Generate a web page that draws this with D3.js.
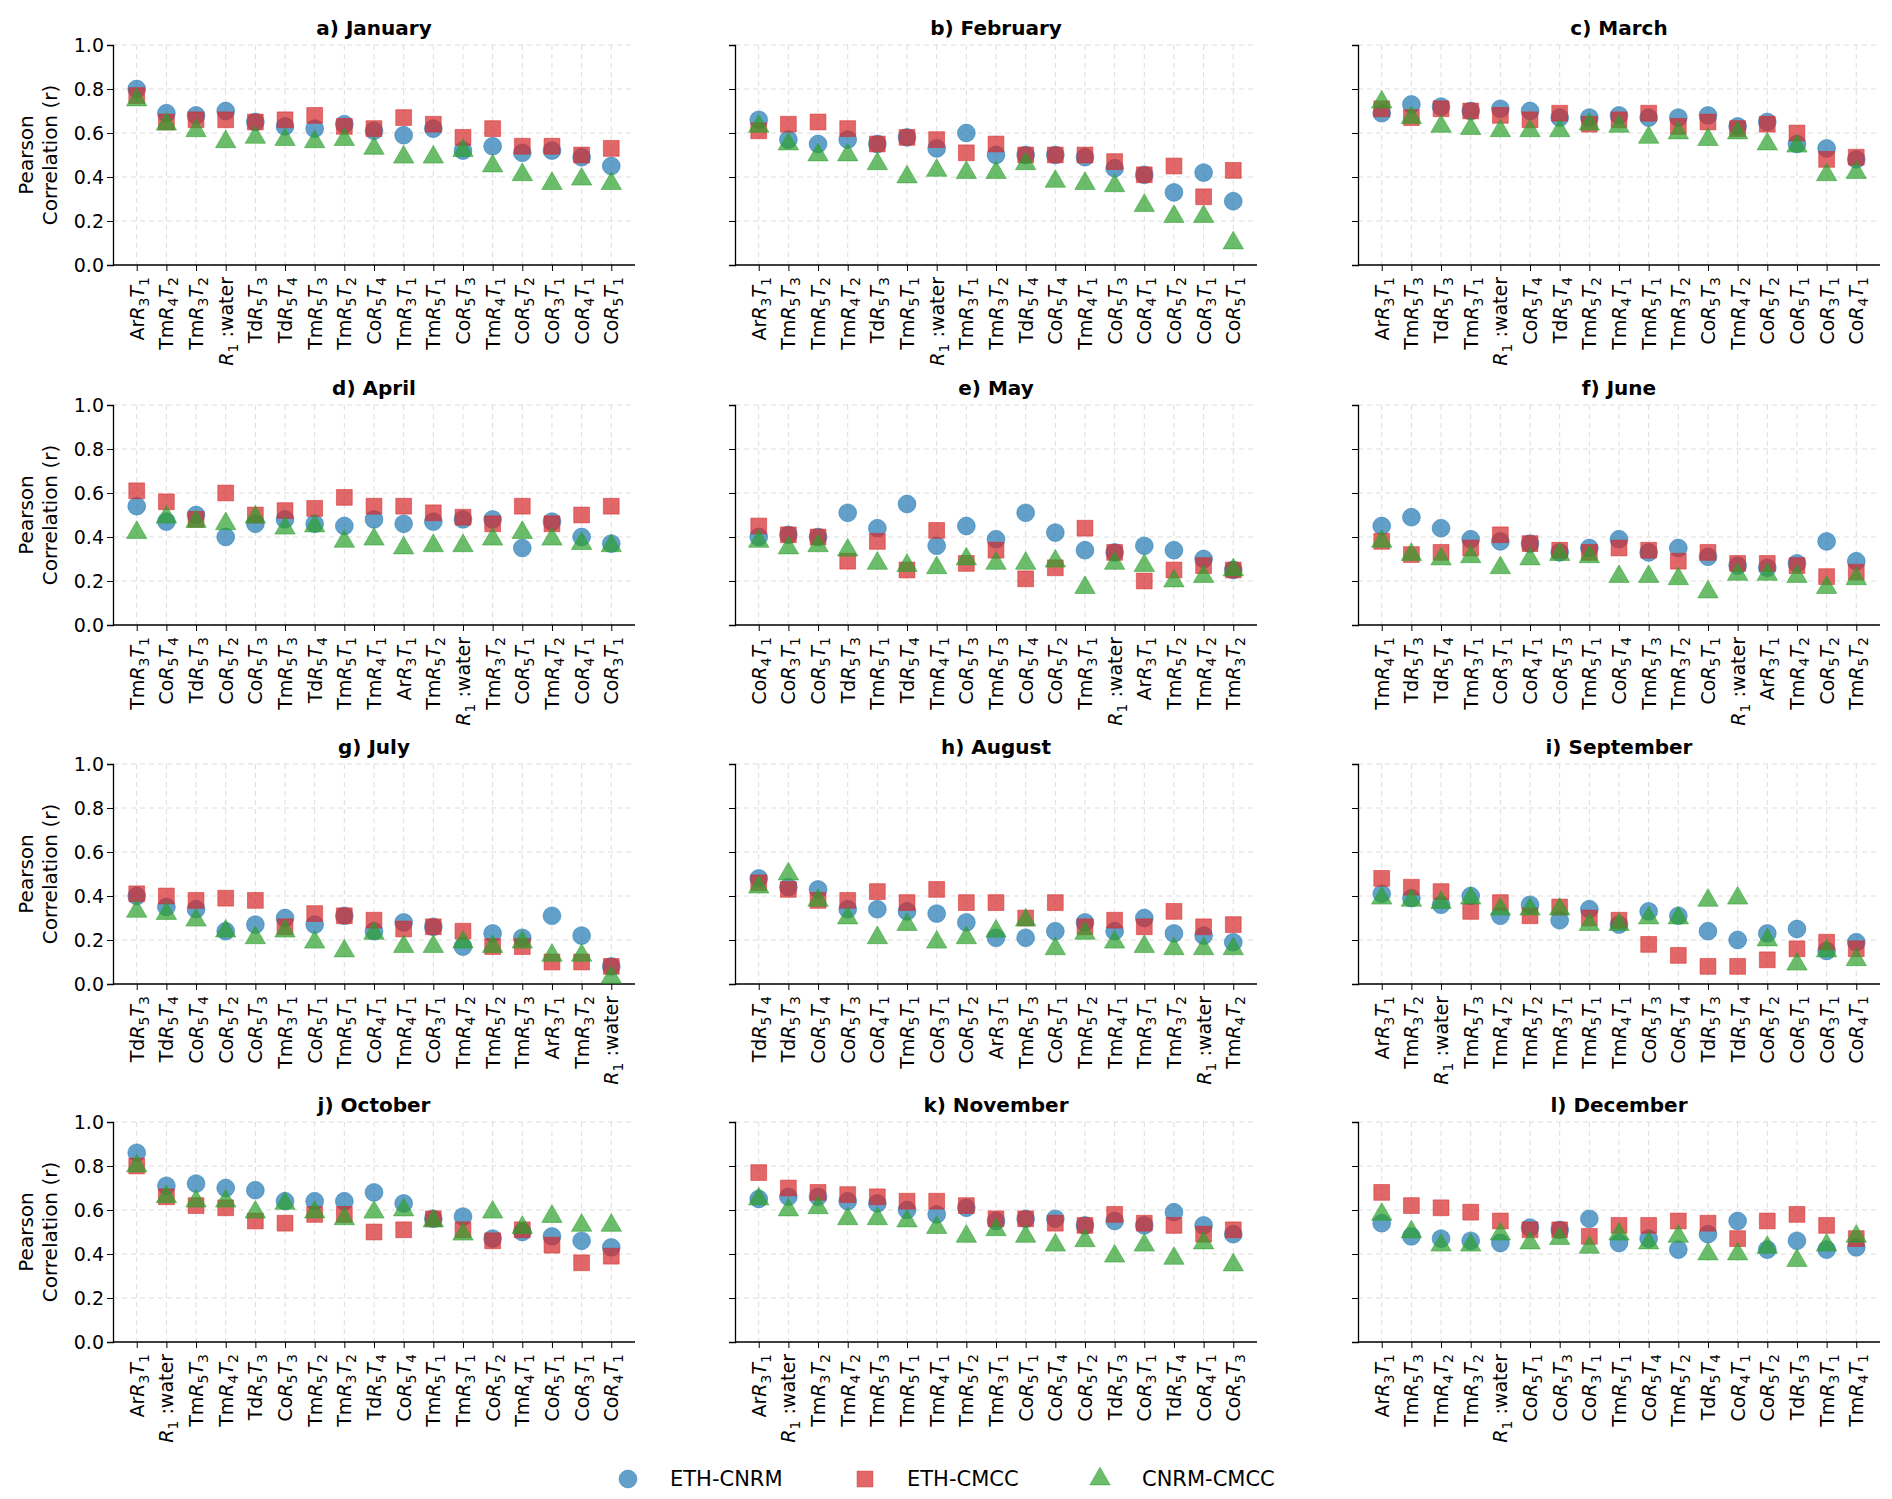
<!DOCTYPE html>
<html>
<head>
<meta charset="utf-8">
<script src="https://cdn.jsdelivr.net/npm/d3@7"></script>
<style>
  body { margin: 0; background: #fff; }
  text { font-family: "DejaVu Sans", sans-serif; }
</style>
</head>
<body>
<svg id="chart" width="1892" height="1499"></svg>
<script>
// panel titles
const titles = ["a) January", "b) February", "c) March", "d) April", "e) May", "f) June",
  "g) July", "h) August", "i) September", "j) October", "k) November", "l) December"];

// category order per month
const cats = [
  ["ArR3T1","TmR4T2","TmR3T2","R1:water","TdR5T3","TdR5T4","TmR5T3","TmR5T2","CoR5T4","TmR3T1","TmR5T1","CoR5T3","TmR4T1","CoR5T2","CoR3T1","CoR4T1","CoR5T1"],
  ["ArR3T1","TmR5T3","TmR5T2","TmR4T2","TdR5T3","TmR5T1","R1:water","TmR3T1","TmR3T2","TdR5T4","CoR5T4","TmR4T1","CoR5T3","CoR4T1","CoR5T2","CoR3T1","CoR5T1"],
  ["ArR3T1","TmR5T3","TdR5T3","TmR3T1","R1:water","CoR5T4","TdR5T4","TmR5T2","TmR4T1","TmR5T1","TmR3T2","CoR5T3","TmR4T2","CoR5T2","CoR5T1","CoR3T1","CoR4T1"],
  ["TmR3T1","CoR5T4","TdR5T3","CoR5T2","CoR5T3","TmR5T3","TdR5T4","TmR5T1","TmR4T1","ArR3T1","TmR5T2","R1:water","TmR3T2","CoR5T1","TmR4T2","CoR4T1","CoR3T1"],
  ["CoR4T1","CoR3T1","CoR5T1","TdR5T3","TmR5T1","TdR5T4","TmR4T1","CoR5T3","TmR5T3","CoR5T4","CoR5T2","TmR3T1","R1:water","ArR3T1","TmR5T2","TmR4T2","TmR3T2"],
  ["TmR4T1","TdR5T3","TdR5T4","TmR3T1","CoR3T1","CoR4T1","CoR5T3","TmR5T1","CoR5T4","TmR5T3","TmR3T2","CoR5T1","R1:water","ArR3T1","TmR4T2","CoR5T2","TmR5T2"],
  ["TdR5T3","TdR5T4","CoR5T4","CoR5T2","CoR5T3","TmR3T1","CoR5T1","TmR5T1","CoR4T1","TmR4T1","CoR3T1","TmR4T2","TmR5T2","TmR5T3","ArR3T1","TmR3T2","R1:water"],
  ["TdR5T4","TdR5T3","CoR5T4","CoR5T3","CoR4T1","TmR5T1","CoR3T1","CoR5T2","ArR3T1","TmR5T3","CoR5T1","TmR5T2","TmR4T1","TmR3T1","TmR3T2","R1:water","TmR4T2"],
  ["ArR3T1","TmR3T2","R1:water","TmR5T3","TmR4T2","TmR5T2","TmR3T1","TmR5T1","TmR4T1","CoR5T3","CoR5T4","TdR5T3","TdR5T4","CoR5T2","CoR5T1","CoR3T1","CoR4T1"],
  ["ArR3T1","R1:water","TmR5T3","TmR4T2","TdR5T3","CoR5T3","TmR5T2","TmR3T2","TdR5T4","CoR5T4","TmR5T1","TmR3T1","CoR5T2","TmR4T1","CoR5T1","CoR3T1","CoR4T1"],
  ["ArR3T1","R1:water","TmR3T2","TmR4T2","TmR5T3","TmR5T1","TmR4T1","TmR5T2","TmR3T1","CoR5T1","CoR5T4","CoR5T2","TdR5T3","CoR3T1","TdR5T4","CoR4T1","CoR5T3"],
  ["ArR3T1","TmR5T3","TmR4T2","TmR3T2","R1:water","CoR5T1","CoR5T3","CoR3T1","TmR5T1","CoR5T4","TmR5T2","TdR5T4","CoR4T1","CoR5T2","TdR5T3","TmR3T1","TmR4T1"]
];

// ETH-CNRM
const ethCnrm = [
  [0.80,0.69,0.68,0.70,0.65,0.63,0.62,0.64,0.61,0.59,0.62,0.52,0.54,0.51,0.52,0.49,0.45],
  [0.66,0.57,0.55,0.57,0.55,0.58,0.53,0.60,0.50,0.50,0.50,0.49,0.44,0.41,0.33,0.42,0.29],
  [0.69,0.73,0.72,0.70,0.71,0.70,0.67,0.67,0.68,0.67,0.67,0.68,0.63,0.65,0.55,0.53,0.48],
  [0.54,0.47,0.50,0.40,0.46,0.48,0.46,0.45,0.48,0.46,0.47,0.48,0.48,0.35,0.47,0.40,0.37],
  [0.40,0.41,0.40,0.51,0.44,0.55,0.36,0.45,0.39,0.51,0.42,0.34,0.33,0.36,0.34,0.30,0.25],
  [0.45,0.49,0.44,0.39,0.38,0.37,0.33,0.35,0.39,0.33,0.35,0.31,0.27,0.26,0.28,0.38,0.29],
  [0.40,0.35,0.34,0.24,0.27,0.30,0.27,0.31,0.24,0.28,0.26,0.17,0.23,0.21,0.31,0.22,0.08],
  [0.48,0.44,0.43,0.34,0.34,0.33,0.32,0.28,0.21,0.21,0.24,0.28,0.24,0.30,0.23,0.22,0.19],
  [0.41,0.39,0.36,0.40,0.31,0.36,0.29,0.34,0.27,0.33,0.31,0.24,0.20,0.23,0.25,0.15,0.19],
  [0.86,0.71,0.72,0.70,0.69,0.64,0.64,0.64,0.68,0.63,0.56,0.57,0.47,0.50,0.48,0.46,0.43],
  [0.65,0.66,0.66,0.64,0.63,0.60,0.58,0.61,0.55,0.56,0.56,0.53,0.55,0.53,0.59,0.53,0.49],
  [0.54,0.48,0.47,0.46,0.45,0.52,0.51,0.56,0.45,0.47,0.42,0.49,0.55,0.42,0.46,0.42,0.43]
];

// ETH-CMCC
const ethCmcc = [
  [0.77,0.65,0.66,0.66,0.65,0.66,0.68,0.63,0.62,0.67,0.64,0.58,0.62,0.54,0.54,0.50,0.53],
  [0.61,0.64,0.65,0.62,0.55,0.58,0.57,0.51,0.55,0.50,0.50,0.50,0.47,0.41,0.45,0.31,0.43],
  [0.71,0.67,0.71,0.70,0.68,0.66,0.69,0.64,0.66,0.69,0.63,0.65,0.62,0.64,0.60,0.48,0.49],
  [0.61,0.56,0.48,0.60,0.50,0.52,0.53,0.58,0.54,0.54,0.51,0.49,0.46,0.54,0.46,0.50,0.54],
  [0.45,0.41,0.40,0.29,0.38,0.25,0.43,0.28,0.34,0.21,0.26,0.44,0.33,0.20,0.25,0.27,0.25],
  [0.38,0.32,0.33,0.35,0.41,0.37,0.34,0.33,0.35,0.34,0.29,0.33,0.28,0.28,0.27,0.22,0.24],
  [0.41,0.40,0.38,0.39,0.38,0.26,0.32,0.31,0.29,0.25,0.26,0.24,0.17,0.17,0.10,0.10,0.08],
  [0.46,0.43,0.38,0.38,0.42,0.37,0.43,0.37,0.37,0.30,0.37,0.26,0.29,0.26,0.33,0.26,0.27],
  [0.48,0.44,0.42,0.33,0.37,0.31,0.35,0.30,0.29,0.18,0.13,0.08,0.08,0.11,0.16,0.19,0.16],
  [0.80,0.66,0.62,0.61,0.55,0.54,0.58,0.58,0.50,0.51,0.56,0.51,0.46,0.51,0.44,0.36,0.39],
  [0.77,0.70,0.68,0.67,0.66,0.64,0.64,0.62,0.56,0.56,0.54,0.53,0.58,0.54,0.53,0.49,0.51],
  [0.68,0.62,0.61,0.59,0.55,0.51,0.51,0.48,0.53,0.53,0.55,0.54,0.47,0.55,0.58,0.53,0.47]
];

// CNRM-CMCC
const cnrmCmcc = [
  [0.75,0.64,0.61,0.56,0.58,0.57,0.56,0.57,0.53,0.49,0.49,0.52,0.45,0.41,0.37,0.39,0.37],
  [0.63,0.55,0.50,0.50,0.46,0.40,0.43,0.42,0.42,0.46,0.38,0.37,0.36,0.27,0.22,0.22,0.10],
  [0.74,0.67,0.63,0.62,0.61,0.61,0.61,0.64,0.63,0.58,0.60,0.57,0.60,0.55,0.54,0.41,0.42],
  [0.42,0.49,0.47,0.46,0.49,0.44,0.45,0.38,0.39,0.35,0.36,0.36,0.39,0.42,0.39,0.37,0.36],
  [0.38,0.35,0.36,0.34,0.28,0.27,0.26,0.30,0.28,0.28,0.29,0.17,0.28,0.27,0.20,0.22,0.25],
  [0.38,0.32,0.30,0.31,0.26,0.30,0.32,0.31,0.22,0.22,0.21,0.15,0.23,0.23,0.22,0.17,0.21],
  [0.33,0.32,0.29,0.24,0.21,0.24,0.19,0.15,0.23,0.17,0.17,0.19,0.17,0.19,0.13,0.13,0.03],
  [0.44,0.50,0.38,0.30,0.21,0.27,0.19,0.21,0.24,0.29,0.16,0.23,0.19,0.17,0.16,0.16,0.16],
  [0.39,0.38,0.37,0.39,0.34,0.34,0.34,0.27,0.27,0.30,0.30,0.38,0.39,0.20,0.09,0.15,0.11],
  [0.80,0.66,0.64,0.64,0.59,0.63,0.59,0.56,0.59,0.60,0.55,0.49,0.59,0.52,0.57,0.53,0.53],
  [0.65,0.60,0.61,0.56,0.56,0.55,0.52,0.48,0.51,0.48,0.44,0.46,0.39,0.44,0.38,0.45,0.35],
  [0.58,0.50,0.44,0.44,0.49,0.45,0.47,0.43,0.49,0.45,0.48,0.40,0.40,0.43,0.37,0.44,0.48]
];

const yTicks = [0, 0.2, 0.4, 0.6, 0.8, 1.0];

const series = [
  { name: "ETH-CNRM", values: ethCnrm, color: "#1f77b4", shape: d3.symbolCircle },
  { name: "ETH-CMCC", values: ethCmcc, color: "#d62728", shape: d3.symbolSquare },
  { name: "CNRM-CMCC", values: cnrmCmcc, color: "#2ca02c", shape: d3.symbolTriangle }
];

const svg = d3.select("#chart");
const colX = [113, 735, 1358];
const rowY = [45, 405, 764, 1122];
const pw = 522, ph = 220;

const y = d3.scaleLinear().domain([0, 1]).range([ph, 0]);

function symSize(shape) { return shape === d3.symbolTriangle ? 180 : 250; }

// label like ArR3T1 -> Ar R(italic) 3(sub) T(italic) 1(sub)
function writeLabel(text, s) {
  let parts;
  const m = s.match(/^(\w\w)R(\d)T(\d)$/);
  if (m) parts = [[m[1], 0], ["R", 1], [m[2], 2], ["T", 1], [m[3], 2]];
  else parts = [["R", 1], ["1", 2], [" :water", 0]];
  let sub = false;
  parts.forEach(([t, k]) => {
    const ts = text.append("tspan").text(t);
    if (k === 1) ts.attr("font-style", "italic");
    if (k === 2) { ts.attr("font-size", 14).attr("dy", 5); sub = true; }
    else if (sub) { ts.attr("dy", -5); sub = false; }
  });
}

titles.forEach((title, p) => {
  const col = p % 3, row = Math.floor(p / 3);
  const g = svg.append("g").attr("transform", `translate(${colX[col]},${rowY[row]})`);
  const x = d3.scalePoint().domain(d3.range(17)).range([0, pw]).padding(0.8);

  // grid
  g.selectAll(".gy").data(yTicks).enter().append("line")
    .attr("x1", 0).attr("x2", pw).attr("y1", d => y(d)).attr("y2", d => y(d))
    .attr("stroke", "#ddd").attr("stroke-dasharray", "5,4").attr("stroke-width", 1);
  g.selectAll(".gx").data(d3.range(17)).enter().append("line")
    .attr("y1", 0).attr("y2", ph).attr("x1", d => x(d)).attr("x2", d => x(d))
    .attr("stroke", "#ddd").attr("stroke-dasharray", "5,4").attr("stroke-width", 1);

  // y axis
  const ya = d3.axisLeft(y).tickValues(yTicks).tickSize(6)
    .tickFormat(col === 0 ? d3.format(".1f") : () => "");
  const yg = g.append("g").call(ya);
  yg.select(".domain").attr("stroke-width", 1.3);
  yg.selectAll("text").attr("font-size", 19).attr("font-family", "DejaVu Sans").attr("fill", "#000");

  // x axis
  const xa = d3.axisBottom(x).tickSize(6).tickFormat("");
  const xg = g.append("g").attr("transform", `translate(0,${ph})`).call(xa);
  xg.select(".domain").attr("d", `M0,0H${pw}`).attr("stroke-width", 1.3);
  cats[p].forEach((c, i) => {
    const t = g.append("text")
      .attr("transform", `translate(${x(i) + 7},${ph + 12}) rotate(-90)`)
      .attr("text-anchor", "end").attr("font-size", 19).attr("fill", "#000");
    writeLabel(t, c);
  });

  // title
  g.append("text").attr("x", pw / 2).attr("y", -10).attr("text-anchor", "middle")
    .attr("font-size", 20).attr("font-weight", "bold").text(title);

  // y label
  if (col === 0) {
    const yl = g.append("text").attr("transform", `translate(-70,${ph / 2}) rotate(-90)`)
      .attr("text-anchor", "middle").attr("font-size", 20);
    yl.append("tspan").attr("x", 0).attr("dy", -10).text("Pearson");
    yl.append("tspan").attr("x", 0).attr("dy", 24).text("Correlation (r)");
  }

  // points
  series.forEach(s => {
    const sym = d3.symbol().type(s.shape).size(symSize(s.shape));
    g.selectAll(null).data(s.values[p]).enter().append("path")
      .attr("d", sym)
      .attr("transform", (d, i) => `translate(${x(i)},${y(d)})`)
      .attr("fill", s.color).attr("fill-opacity", 0.7)
      .attr("stroke", s.color).attr("stroke-opacity", 0.5).attr("stroke-width", 1);
  });
});

// legend
const legX = [628, 865, 1100];
series.forEach((s, i) => {
  const lg = svg.append("g").attr("transform", `translate(${legX[i]},1479)`);
  const sym = d3.symbol().type(s.shape).size(symSize(s.shape));
  lg.append("path").attr("d", sym).attr("fill", s.color).attr("fill-opacity", 0.7)
    .attr("stroke", s.color).attr("stroke-opacity", 0.5);
  lg.append("text").attr("x", 42).attr("y", 7).attr("font-size", 21).text(s.name);
});
</script>
</body>
</html>
